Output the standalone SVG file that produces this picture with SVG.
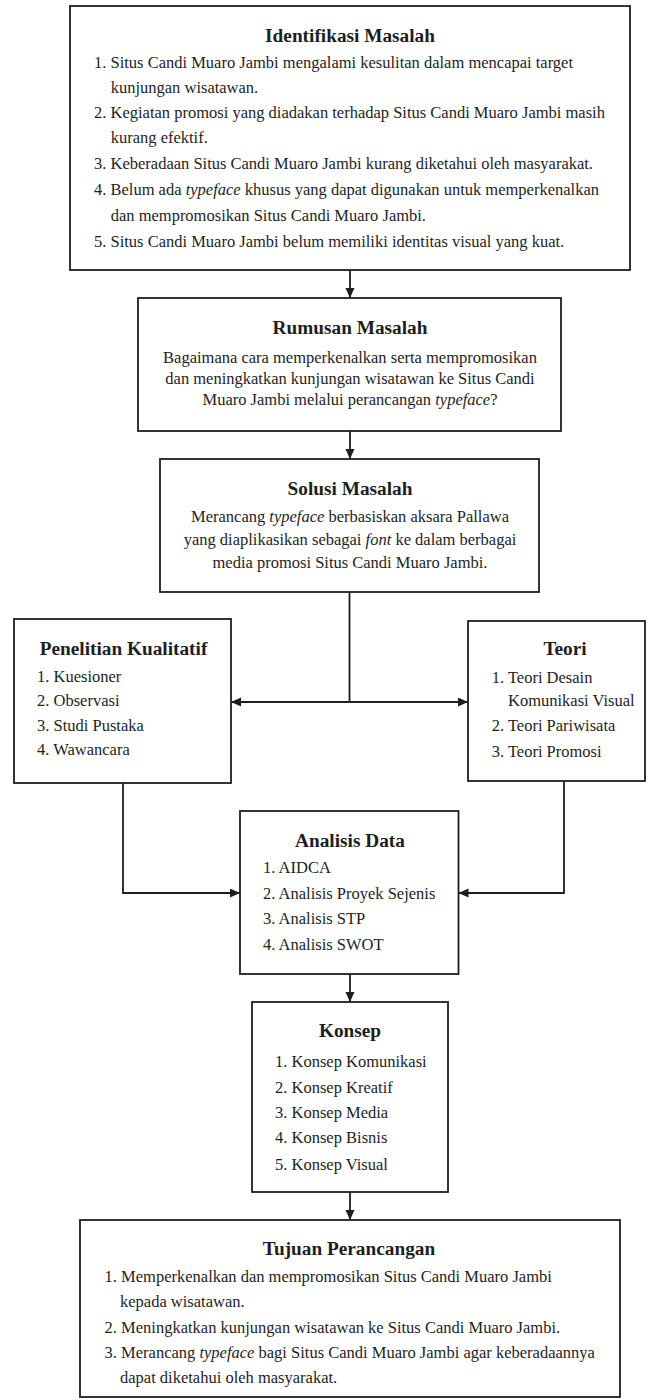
<svg xmlns="http://www.w3.org/2000/svg" width="649" height="1400" viewBox="0 0 649 1400">
<style>
.box{fill:#fff;stroke:#1e1e1e;stroke-width:1.8}
.t{font-family:"Liberation Serif","Times New Roman",serif;font-size:16.5px;fill:#1e1e1e}
.h{font-weight:bold;font-size:19.3px;text-anchor:middle}
.c{text-anchor:middle}
.i{font-style:italic}
.conn{stroke:#1e1e1e;stroke-width:1.8;fill:none}
</style>
<defs>
<marker id="ah" markerUnits="userSpaceOnUse" markerWidth="11" markerHeight="10" refX="10" refY="4.5" orient="auto">
<path d="M0,0 L10,4.5 L0,9 z" fill="#1e1e1e"/>
</marker>
</defs>
<rect width="649" height="1400" fill="#fff"/>

<g id="connectors">
<path class="conn" d="M350,270 V298" marker-end="url(#ah)"/>
<path class="conn" d="M350,431 V459" marker-end="url(#ah)"/>
<path class="conn" d="M349.5,592 V702"/>
<path class="conn" d="M349.5,702 H231" marker-end="url(#ah)"/>
<path class="conn" d="M349.5,702 H468" marker-end="url(#ah)"/>
<path class="conn" d="M123,783 V893 H240" marker-end="url(#ah)"/>
<path class="conn" d="M564,781 V893 H458.5" marker-end="url(#ah)"/>
<path class="conn" d="M350,974 V1002" marker-end="url(#ah)"/>
<path class="conn" d="M350,1192 V1220" marker-end="url(#ah)"/>
</g>

<g id="identifikasi">
<rect class="box" x="70" y="6" width="560" height="264"/>
<text class="t h" x="350" y="42">Identifikasi Masalah</text>
<text class="t" x="94" y="68">1. Situs Candi Muaro Jambi mengalami kesulitan dalam mencapai target</text>
<text class="t" x="110.7" y="93">kunjungan wisatawan.</text>
<text class="t" x="94" y="118">2. Kegiatan promosi yang diadakan terhadap Situs Candi Muaro Jambi masih</text>
<text class="t" x="110.7" y="143">kurang efektif.</text>
<text class="t" x="94" y="169">3. Keberadaan Situs Candi Muaro Jambi kurang diketahui oleh masyarakat.</text>
<text class="t" x="94" y="195">4. Belum ada <tspan class="i">typeface</tspan> khusus yang dapat digunakan untuk memperkenalkan</text>
<text class="t" x="110.7" y="221">dan mempromosikan Situs Candi Muaro Jambi.</text>
<text class="t" x="94" y="247">5. Situs Candi Muaro Jambi belum memiliki identitas visual yang kuat.</text>
</g>

<g id="rumusan">
<rect class="box" x="138" y="298" width="423" height="133"/>
<text class="t h" x="350" y="334">Rumusan Masalah</text>
<text class="t c" x="350" y="362.5">Bagaimana cara memperkenalkan serta mempromosikan</text>
<text class="t c" x="350" y="384">dan meningkatkan kunjungan wisatawan ke Situs Candi</text>
<text class="t c" x="350" y="405.3">Muaro Jambi melalui perancangan <tspan class="i">typeface</tspan>?</text>
</g>

<g id="solusi">
<rect class="box" x="160" y="459" width="379" height="133"/>
<text class="t h" x="350" y="495">Solusi Masalah</text>
<text class="t c" x="350" y="522">Merancang <tspan class="i">typeface</tspan> berbasiskan aksara Pallawa</text>
<text class="t c" x="350" y="545">yang diaplikasikan sebagai <tspan class="i">font</tspan> ke dalam berbagai</text>
<text class="t c" x="350" y="568">media promosi Situs Candi Muaro Jambi.</text>
</g>

<g id="penelitian">
<rect class="box" x="14" y="619" width="217" height="164"/>
<text class="t h" x="123.5" y="655">Penelitian Kualitatif</text>
<text class="t" x="37" y="681.7">1. Kuesioner</text>
<text class="t" x="37" y="706">2. Observasi</text>
<text class="t" x="37" y="730.7">3. Studi Pustaka</text>
<text class="t" x="37" y="755">4. Wawancara</text>
</g>

<g id="teori">
<rect class="box" x="468" y="621" width="177" height="160"/>
<text class="t h" x="565" y="655">Teori</text>
<text class="t" x="491.7" y="682.7">1. Teori Desain</text>
<text class="t" x="508" y="706">Komunikasi Visual</text>
<text class="t" x="491.7" y="730.7">2. Teori Pariwisata</text>
<text class="t" x="491.7" y="756.7">3. Teori Promosi</text>
</g>

<g id="analisis">
<rect class="box" x="240" y="811" width="218.5" height="163"/>
<text class="t h" x="350" y="846.7">Analisis Data</text>
<text class="t" x="263" y="873">1. AIDCA</text>
<text class="t" x="263" y="899">2. Analisis Proyek Sejenis</text>
<text class="t" x="263" y="924">3. Analisis STP</text>
<text class="t" x="263" y="950">4. Analisis SWOT</text>
</g>

<g id="konsep">
<rect class="box" x="252" y="1002" width="196" height="190"/>
<text class="t h" x="350" y="1037">Konsep</text>
<text class="t" x="275" y="1066.7">1. Konsep Komunikasi</text>
<text class="t" x="275" y="1092.7">2. Konsep Kreatif</text>
<text class="t" x="275" y="1117.7">3. Konsep Media</text>
<text class="t" x="275" y="1143">4. Konsep Bisnis</text>
<text class="t" x="275" y="1170">5. Konsep Visual</text>
</g>

<g id="tujuan">
<rect class="box" x="80" y="1220" width="540" height="177"/>
<text class="t h" x="349" y="1255">Tujuan Perancangan</text>
<text class="t" x="104.6" y="1281.7">1. Memperkenalkan dan mempromosikan Situs Candi Muaro Jambi</text>
<text class="t" x="120" y="1306.7">kepada wisatawan.</text>
<text class="t" x="104.6" y="1333">2. Meningkatkan kunjungan wisatawan ke Situs Candi Muaro Jambi.</text>
<text class="t" x="104.6" y="1358">3. Merancang <tspan class="i">typeface</tspan> bagi Situs Candi Muaro Jambi agar keberadaannya</text>
<text class="t" x="120" y="1383">dapat diketahui oleh masyarakat.</text>
</g>
</svg>
